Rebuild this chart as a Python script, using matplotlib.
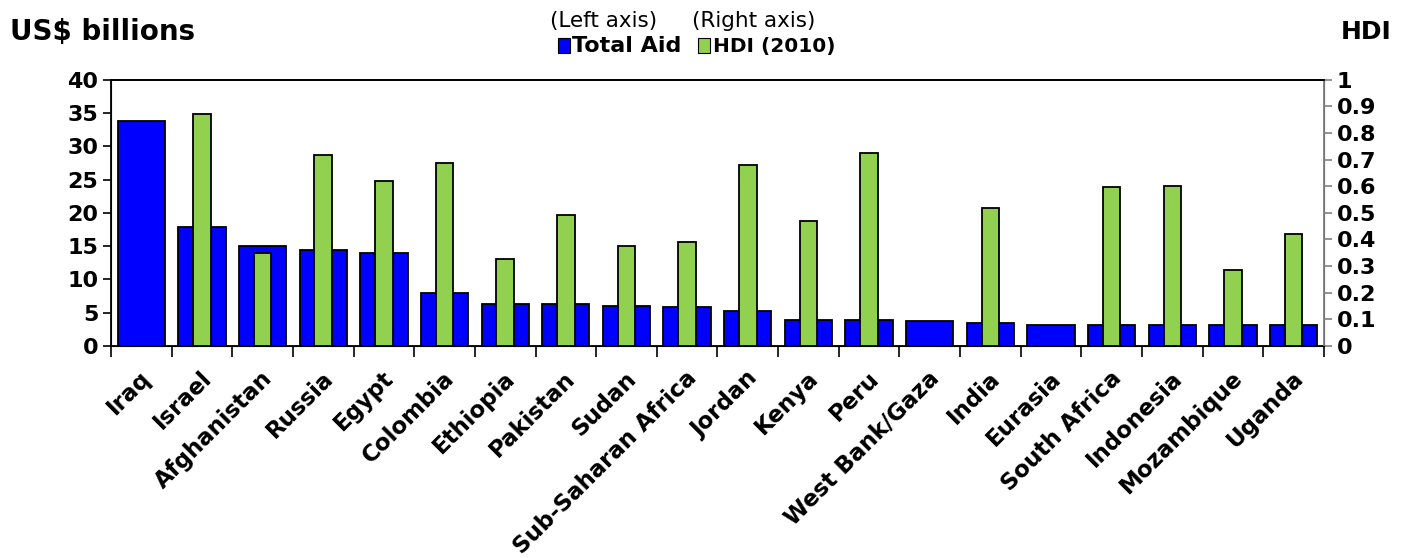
import matplotlib
matplotlib.use('Agg')
import matplotlib.pyplot as plt
import matplotlib.transforms as mtransforms
import numpy as np
from matplotlib.patches import Rectangle

plt.rcParams['font.family'] = ['DejaVu Sans']

paises = ['Iraq', 'Israel', 'Afghanistan', 'Russia', 'Egypt', 'Colombia', 'Ethiopia',
          'Pakistan', 'Sudan', 'Sub-Saharan Africa', 'Jordan', 'Kenya', 'Peru',
          'West Bank/Gaza', 'India', 'Eurasia', 'South Africa', 'Indonesia',
          'Mozambique', 'Uganda']
ayuda = [33.8, 17.9, 15.0, 14.4, 14.0, 8.0, 6.3, 6.3, 6.0, 5.8, 5.2, 3.9, 3.9,
         3.8, 3.4, 3.2, 3.2, 3.2, 3.2, 3.2]
hdi = [np.nan, 0.872, 0.349, 0.718, 0.618, 0.689, 0.328, 0.492, 0.377, 0.389,
       0.680, 0.471, 0.724, np.nan, 0.519, np.nan, 0.597, 0.600, 0.284, 0.421]

AZUL = '#0000FF'
VERDE = '#92D050'

fig = plt.figure(figsize=(14.01, 5.58), dpi=100)
ax = fig.add_axes([0.0792, 0.380, 0.8658, 0.477])
ax2 = ax.twinx()

x = np.arange(len(paises))
ax.bar(x, ayuda, width=0.78, color=AZUL, edgecolor='black', linewidth=1.3, zorder=2)
ax2.bar(x, hdi, width=0.29, color=VERDE, edgecolor='black', linewidth=1.3, zorder=3)

ax.set_xlim(-0.5, len(paises) - 0.5)
ax.set_ylim(0, 40)
ax2.set_ylim(0, 1)
ax.set_yticks(range(0, 41, 5))
ax2.set_yticks(np.arange(0, 1.01, 0.1))
ax2.set_yticklabels(['0'] + ['%.1f' % v for v in np.arange(0.1, 0.95, 0.1)] + ['1'])

ax.set_xticks(np.arange(-0.5, len(paises), 1))
ax.set_xticklabels([])
ax.set_xticks(x, minor=True)
ax.set_xticklabels(paises, minor=True, rotation=45, ha='right', va='top',
                   rotation_mode='anchor', fontsize=16.5, fontweight='bold')
ax.tick_params(axis='x', which='minor', length=0, pad=15)
ax.tick_params(axis='x', which='major', length=8, width=1.2, direction='out')
desplaza = mtransforms.ScaledTranslation(-2 / 100, 0, fig.dpi_scale_trans)
for t in ax.get_xticklabels(minor=True):
    t.set_transform(t.get_transform() + desplaza)

ax.tick_params(axis='y', length=6, width=1.2, labelsize=16, pad=3)
for t in ax.get_yticklabels():
    t.set_fontweight('bold')
ax2.tick_params(axis='y', length=6, width=1.2, labelsize=16, pad=3, color='#808080')
for t in ax2.get_yticklabels():
    t.set_fontweight('bold')

for s in ['left', 'top', 'bottom']:
    ax.spines[s].set_linewidth(1.3)
ax2.spines['right'].set_color('#808080')
ax2.spines['right'].set_linewidth(1.3)
ax2.spines['top'].set_linewidth(1.3)

fig.text(0.007, 0.942, 'US$ billions', fontsize=20, fontweight='bold', va='center', ha='left')
fig.text(0.993, 0.942, 'HDI', fontsize=18, fontweight='bold', va='center', ha='right')

# leyenda manual
fig.text(0.3925, 0.962, '(Left axis)', fontsize=15.5, va='center', ha='left')
fig.text(0.494, 0.962, '(Right axis)', fontsize=15.5, va='center', ha='left')
fig.patches.append(Rectangle((0.3985, 0.905), 0.0086, 0.027, transform=fig.transFigure,
                             facecolor=AZUL, edgecolor='black', linewidth=0.8))
fig.patches.append(Rectangle((0.4985, 0.905), 0.0086, 0.027, transform=fig.transFigure,
                             facecolor=VERDE, edgecolor='black', linewidth=0.8))
fig.text(0.4085, 0.917, 'Total Aid', fontsize=16, fontweight='bold', va='center', ha='left')
fig.text(0.509, 0.917, 'HDI (2010)', fontsize=14.5, fontweight='bold', va='center', ha='left')

fig.savefig('out.png', dpi=100)
